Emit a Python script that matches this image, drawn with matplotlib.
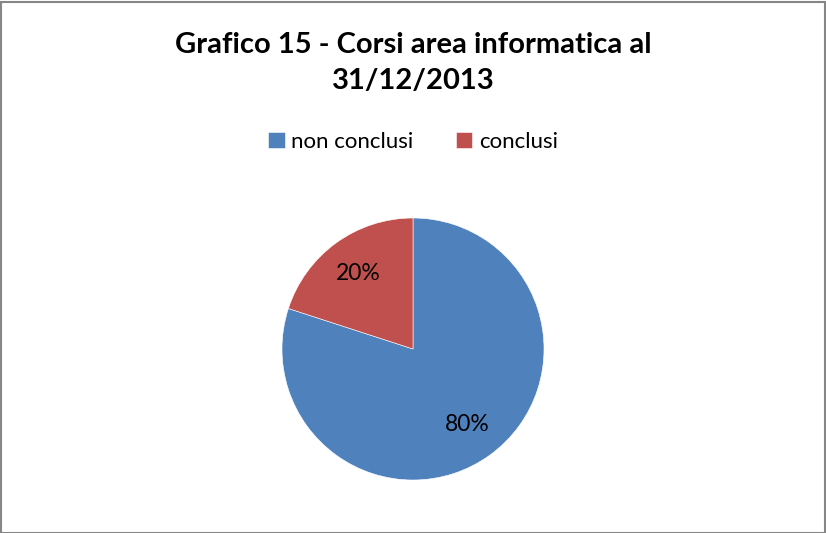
import matplotlib.pyplot as plt
from matplotlib.patches import Rectangle

labels = ["non conclusi", "conclusi"]
values = [80, 20]
colors = ["#4f81bd", "#c0504d"]

title = "Grafico 15 - Corsi area informatica al\n31/12/2013"

plt.rcParams["font.family"] = ["Lato", "DejaVu Sans"]

W, H = 826, 533
fig = plt.figure(figsize=(W / 100, H / 100), dpi=100)

# pie centre around (413, 349) px, radius ~131 px
cx, cy, r = 413, 349, 131
ax = fig.add_axes([(cx - r) / W, (H - cy - r) / H, 2 * r / W, 2 * r / H])
wedges, _, autotexts = ax.pie(values, colors=colors, startangle=90, counterclock=False,
                              autopct="%d%%", pctdistance=0.71,
                              wedgeprops=dict(edgecolor="white", linewidth=0.4),
                              textprops=dict(fontsize=16.5, color="black"))
ax.set_xlim(-1, 1)
ax.set_ylim(-1, 1)
ax.set_aspect("equal")

fig.text(0.5, 1 - 63 / H, title, ha="center", va="center", fontsize=21,
         fontweight="bold", linespacing=1.5)

fig.legend(wedges, labels, loc="center", bbox_to_anchor=(0.5, 1 - 142 / H),
           ncol=2, frameon=False, fontsize=16, handlelength=0.75, handleheight=0.75,
           handletextpad=0.3, columnspacing=1.9)

# chart border
fig.patches.append(Rectangle((0.5 / W, 0.5 / H), 1 - 2 / W, 1 - 2 / H,
                             transform=fig.transFigure, fill=False,
                             edgecolor="#868686", linewidth=1.5))

fig.savefig("out.png", dpi=100)
